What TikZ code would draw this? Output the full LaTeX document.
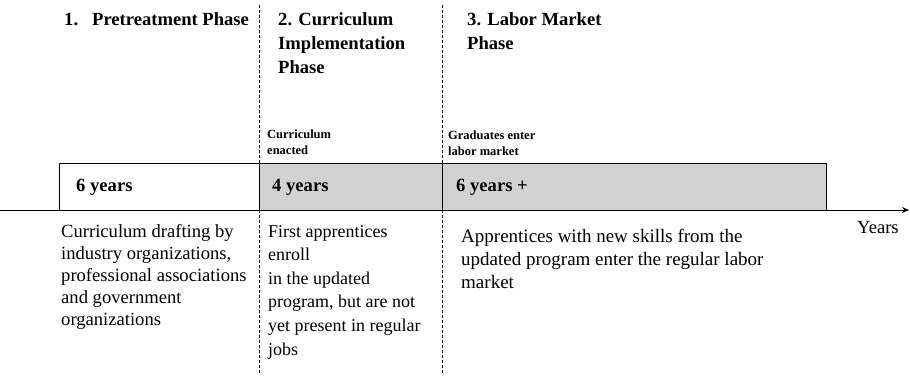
\documentclass[tikz,border=0pt]{standalone}
\usepackage{fontspec}
\setmainfont{Liberation Serif}
\usetikzlibrary{arrows.meta}
\definecolor{cellgray}{HTML}{D3D2D3}
\tikzset{
  phase/.style={anchor=north west, align=left, inner sep=0pt,
    font=\fontsize{18.6}{24}\selectfont\bfseries},
  event/.style={anchor=north west, align=left, inner sep=0pt,
    font=\fontsize{12.5}{16}\selectfont\bfseries},
  cell/.style={draw, anchor=north west, minimum height=47pt, inner sep=0pt, line width=0.8pt},
  span/.style={anchor=west, inner sep=0pt, font=\fontsize{18.6}{22}\selectfont\bfseries},
  desc/.style={anchor=north west, align=left, inner sep=0pt,
    font=\fontsize{18.6}{22}\selectfont},
  divider/.style={dash pattern=on 3pt off 2pt, line width=0.6pt}
}

\begin{document}
\begin{tikzpicture}[x=1pt,y=-1pt]
  \useasboundingbox (0,0) rectangle (910,375);

  % phase dividers
  \coordinate (div1top) at (259,5);
  \coordinate (div1bot) at (259,375);
  \coordinate (div2top) at (442,5);
  \coordinate (div2bot) at (442,375);
  \draw[divider] (div1top) -- (div1bot);
  \draw[divider] (div2top) -- (div2bot);

  % phase titles
  \node[phase] (pretreat) at (64,12) {1.\hspace{14pt}Pretreatment Phase};
  \node[phase] (implement) at (278,12) {2. Curriculum\\Implementation\\Phase};
  \node[phase] (labor) at (467,12) {3. Labor Market\\Phase};

  % events
  \node[event] (enacted) at (267,130) {Curriculum\\enacted};
  \node[event] (graduates) at (448,131) {Graduates enter\\labor market};

  % duration bar
  \node[cell, minimum width=200pt, fill=white] (cell1) at (59,163) {};
  \node[cell, minimum width=183pt, fill=cellgray] (cell2) at (259,163) {};
  \node[cell, minimum width=384pt, fill=cellgray] (cell3) at (442,163) {};
  \node[span] (span1) at ([xshift=17pt]cell1.west) {6 years};
  \node[span] (span2) at ([xshift=13pt]cell2.west) {4 years};
  \node[span] (span3) at ([xshift=14pt]cell3.west) {6 years +};

  % time axis
  \coordinate (axisL) at (0,210);
  \coordinate (axisR) at (909,210);
  \draw[line width=0.8pt, -{Stealth[length=7pt,width=6pt]}] (axisL) -- (axisR);
  \node[desc] (years) at (857,221) {Years};

  % descriptions
  \node[desc] (drafting) at (61,224) {Curriculum drafting by\\industry organizations,\\professional associations\\and government\\organizations};
  \node[desc, font=\fontsize{18}{23.6}\selectfont] (enroll) at (268,225) {First apprentices\\enroll\\in the updated\\program, but are not\\yet present in regular\\jobs};
  \node[desc, font=\fontsize{19}{23}\selectfont] (skills) at (461,229) {Apprentices with new skills from the\\updated program enter the regular labor\\market};
\end{tikzpicture}
\end{document}
